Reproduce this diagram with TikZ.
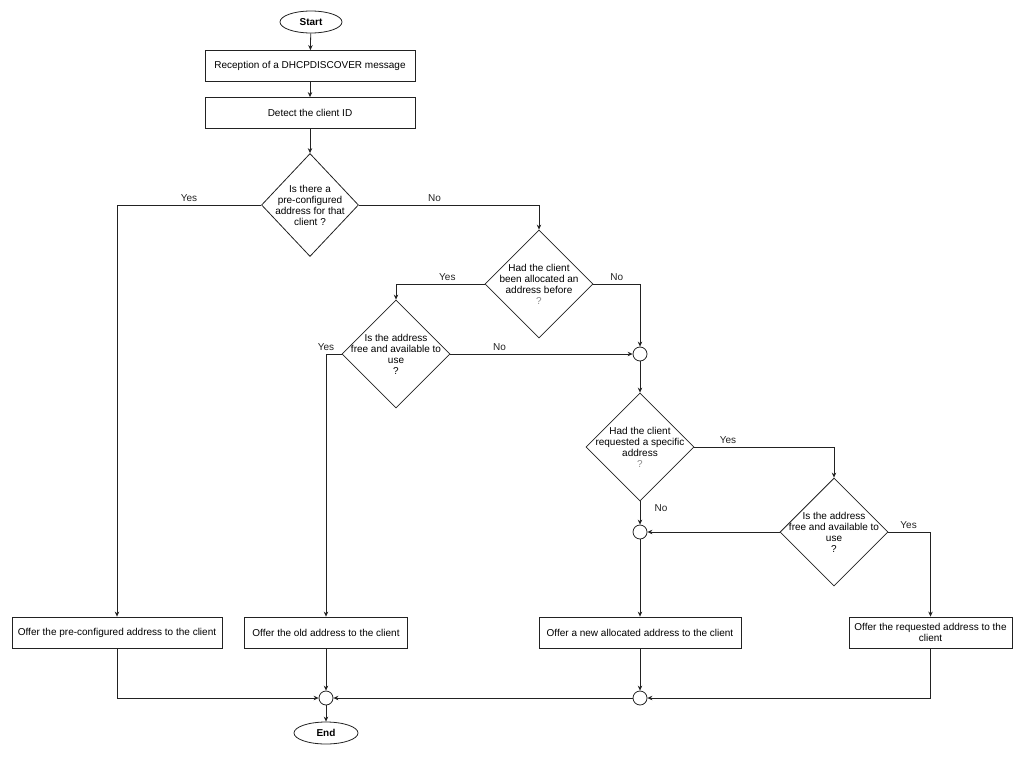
\documentclass[tikz,border=0pt]{standalone}
\usepackage{fontspec}
\setmainfont{Liberation Sans}
\usetikzlibrary{arrows.meta,positioning,shapes.geometric}
\definecolor{cLine}{HTML}{222222}
\definecolor{cQuery}{HTML}{8A8A8A}

\begin{document}
\begin{tikzpicture}[x=1pt,y=-1pt,font=\fontsize{10}{11}\selectfont,>={Stealth[length=5pt,width=4.5pt]},
   line width=0.8pt,
   box/.style={draw=cLine,minimum height=31pt,align=center,inner sep=2pt},
   test/.style={draw=cLine,diamond,aspect=1,inner sep=-16pt,align=center,minimum width=108pt,minimum height=108pt},
   term/.style={draw=cLine,ellipse,minimum width=62pt,minimum height=22pt,font=\fontsize{10}{11}\selectfont\bfseries},
   merge/.style={draw=cLine,circle,minimum size=14pt,inner sep=0pt},
   flow/.style={->,cLine}]
  \useasboundingbox (0,0) rectangle (1024,757);
  % top of the chart
  \node[term] (start) at (311,22) {Start};
  \node[box,minimum width=210pt] (recv) at (310,66) {Reception of a DHCPDISCOVER message};
  \node[box,minimum width=210pt] (ident) at (310,113) {Detect the client ID};
  % decisions
  \node[test,minimum width=97pt,minimum height=103pt] (qpre) at (310,205) {Is there a\\ pre-configured\\ address for that\\ client ?};
  \node[test] (qold) at (539,284) {Had the client\\ been allocated an\\ address before\\ {\color{cQuery}?}};
  \node[test] (qoldfree) at (396,354) {Is the address\\ free and available to\\ use\\ ?};
  \node[merge] (m1) at (640,354) {};
  \node[test] (qreq) at (640,447) {Had the client\\ requested a specific\\ address\\ {\color{cQuery}?}};
  \node[test] (qreqfree) at (834,532) {Is the address\\ free and available to\\ use\\ ?};
  \node[merge] (m2) at (640,532) {};
  % offers
  \node[box,minimum width=210pt] (opre) at (117,632.5) {Offer the pre-configured address to the client};
  \node[box,minimum width=163pt] (oold) at (326,632.5) {Offer the old address to the client};
  \node[box,minimum width=202pt] (onew) at (640,632.5) {Offer a new allocated address to the client};
  \node[box,minimum width=163pt] (oreq) at (930.5,632.5) {Offer the requested address to the\\ client};
  \node[merge] (m3) at (326,698) {};
  \node[merge] (m4) at (640,698) {};
  \node[term,minimum width=64pt] (end) at (326,733) {End};

  \draw[flow] (start) -- (recv);
  \draw[flow] (recv) -- (ident);
  \draw[flow] (ident) -- (qpre);
  \draw[flow] (qpre.west) -| node[pos=0.25,above]{Yes} (opre.north);
  \draw[flow] (qpre.east) -| node[pos=0.21,above]{No} (qold.north);
  \draw[flow] (qold.west) -| node[pos=0.21,above]{Yes} (qoldfree.north);
  \draw[flow] (qold.east) -| node[pos=0.25,above]{No} (m1.north);
  \draw[flow] (qoldfree.east) -- node[pos=0.27,above]{No} (m1.west);
  \draw[flow] (qoldfree.west) -| node[pos=0.5,above]{Yes} (oold.north);
  \draw[flow] (m1) -- (qreq);
  \draw[flow] (qreq.east) -| node[pos=0.12,above]{Yes} (qreqfree.north);
  \draw[flow] (qreq.south) -- node[pos=0.3,right=11pt]{No} (m2.north);
  \draw[flow] (qreqfree.west) -- (m2.east);
  \draw[flow] (qreqfree.east) -| node[pos=0.24,above]{Yes} (oreq.north);
  \draw[flow] (m2) -- (onew);
  \draw[flow] (opre.south) |- (m3.west);
  \draw[flow] (oold) -- (m3);
  \draw[flow] (m4.west) -- (m3.east);
  \draw[flow] (onew) -- (m4);
  \draw[flow] (oreq.south) |- (m4.east);
  \draw[flow] (m3) -- (end);
\end{tikzpicture}
\end{document}
